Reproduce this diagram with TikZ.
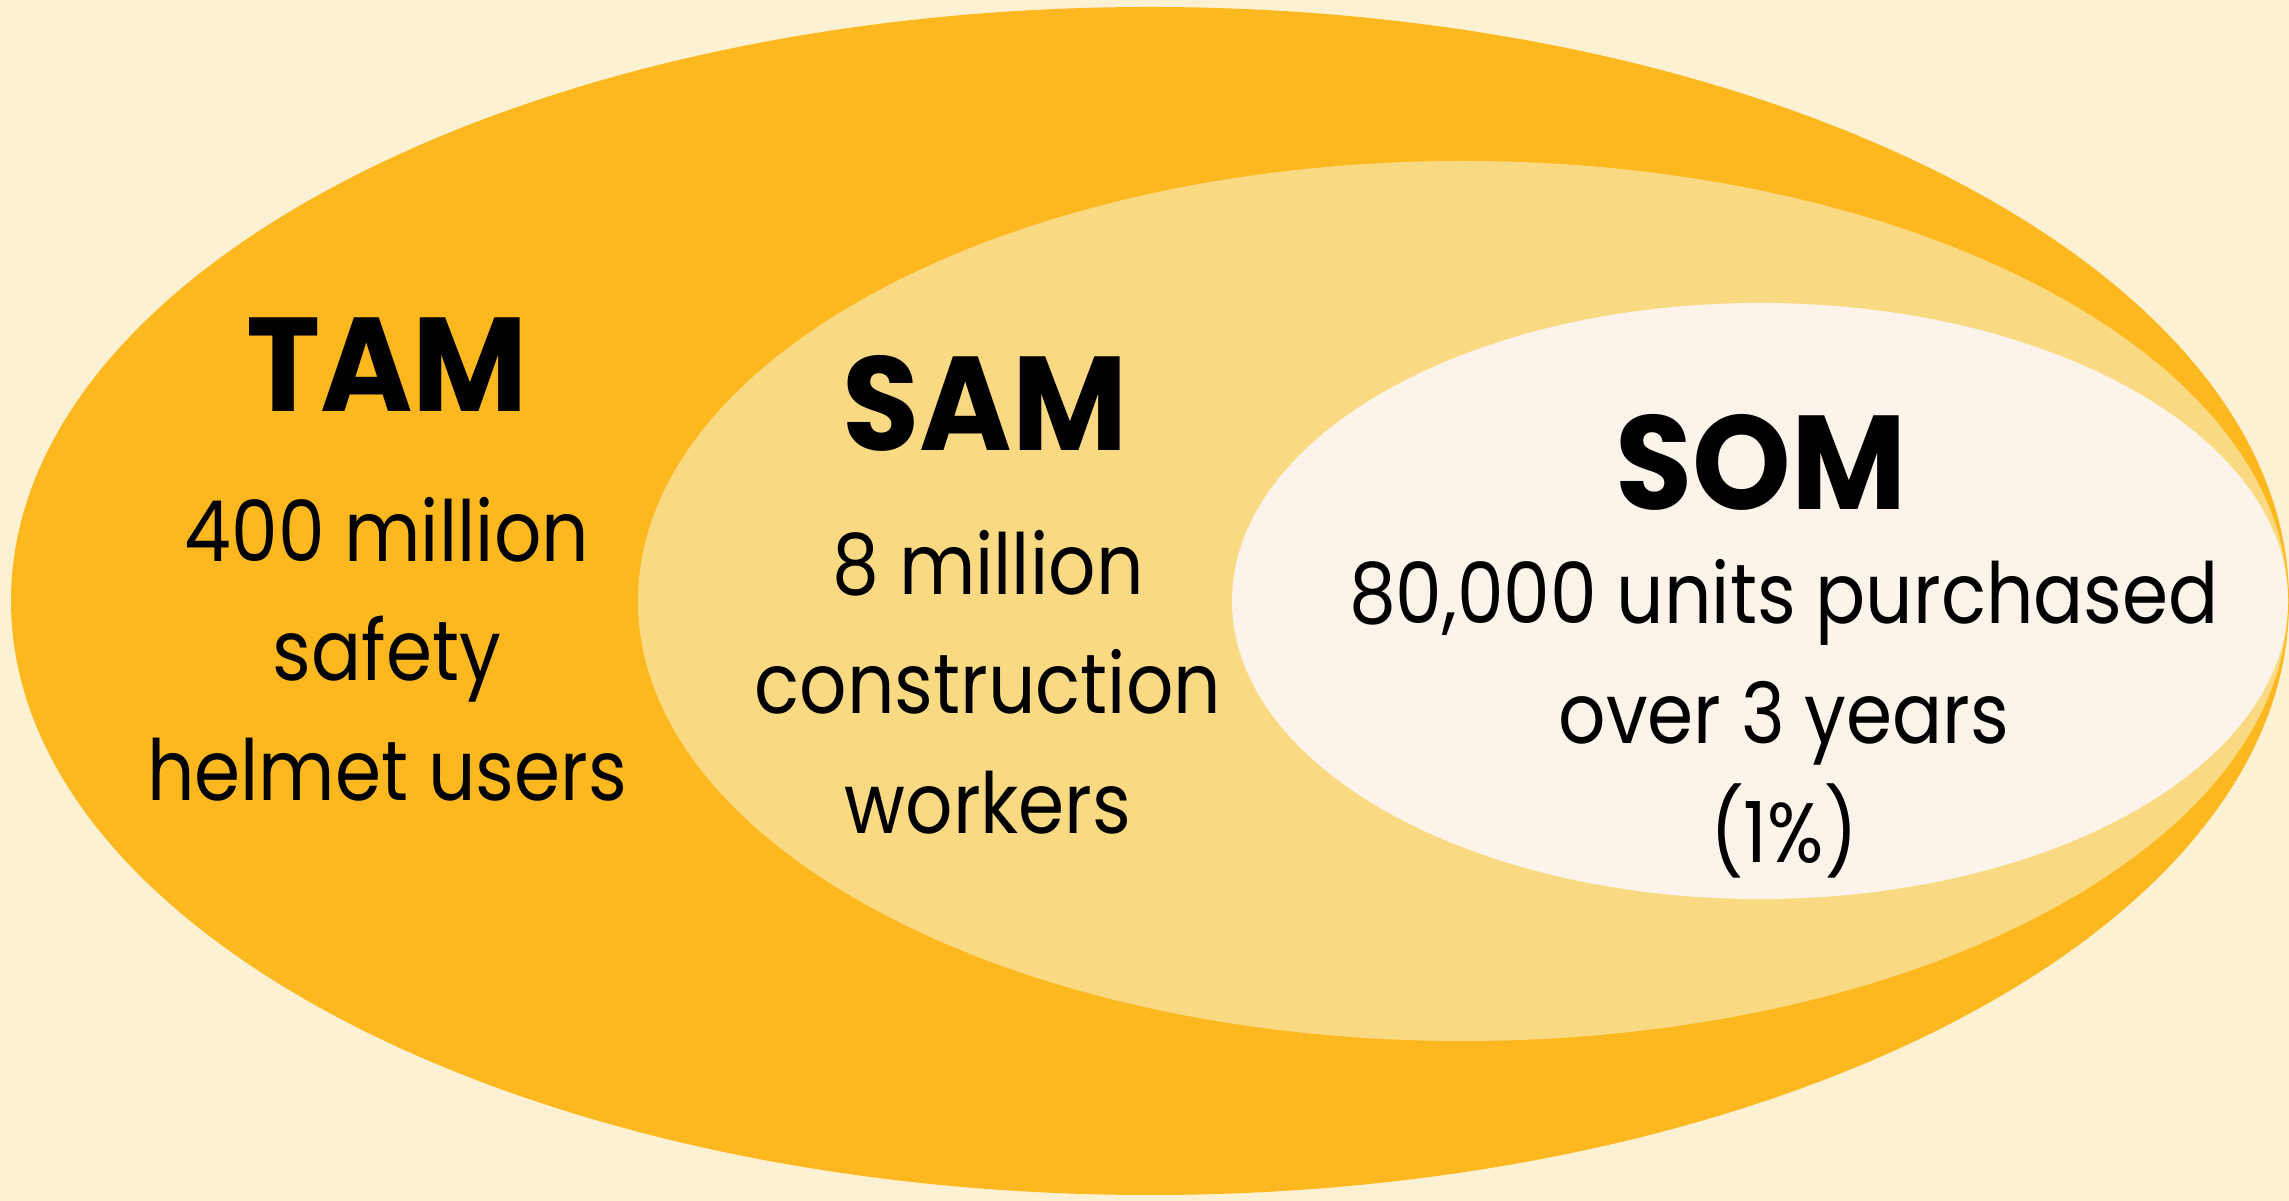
\documentclass[tikz,border=0pt]{standalone}
\usepackage{fontspec}
\setmainfont{Poppins}
\newfontfamily\bodyfont[FakeStretch=0.88]{Poppins}
\newfontfamily\titlefont[FakeStretch=0.94]{Poppins}
\definecolor{bgcream}{HTML}{FCF1D2}
\definecolor{tamfill}{HTML}{FDB81F}
\definecolor{samfill}{HTML}{F9DA83}
\definecolor{somfill}{HTML}{FCF4EA}
\tikzset{
  title/.style={font=\titlefont\fontsize{38}{40}\selectfont\bfseries, anchor=base},
  body/.style={font=\bodyfont\fontsize{24}{34}\selectfont, align=center}
}
\begin{document}
\begin{tikzpicture}
	\useasboundingbox[fill=bgcream] (0,0) rectangle (22.89,12.01);
	\path (11.50,6) coordinate (T) (14.63,6) coordinate (S) (17.60,6) coordinate (O);
	% nested markets, all touching at the right edge
	\fill[tamfill] (T) ellipse [x radius=11.39, y radius=5.94];
	\fill[samfill] (S) ellipse [x radius=8.25, y radius=4.40];
	\fill[somfill] (O) ellipse [x radius=5.28, y radius=2.98];
	\node[title] (tam) at (3.87,7.89) {TAM};
	\node[body] (tamtxt) at (3.87,5.52) {400 million\\safety\\helmet users};
	\node[title] (sam) at (9.85,7.50) {SAM};
	\node[body] (samtxt) at (9.88,5.19) {8 million\\construction\\workers};
	\node[title] (som) at (17.61,6.91) {SOM};
	\node[body] (somtxt) at (17.84,4.82) {80,000 units purchased\\over 3 years\\(1\%)};
\end{tikzpicture}
\end{document}
